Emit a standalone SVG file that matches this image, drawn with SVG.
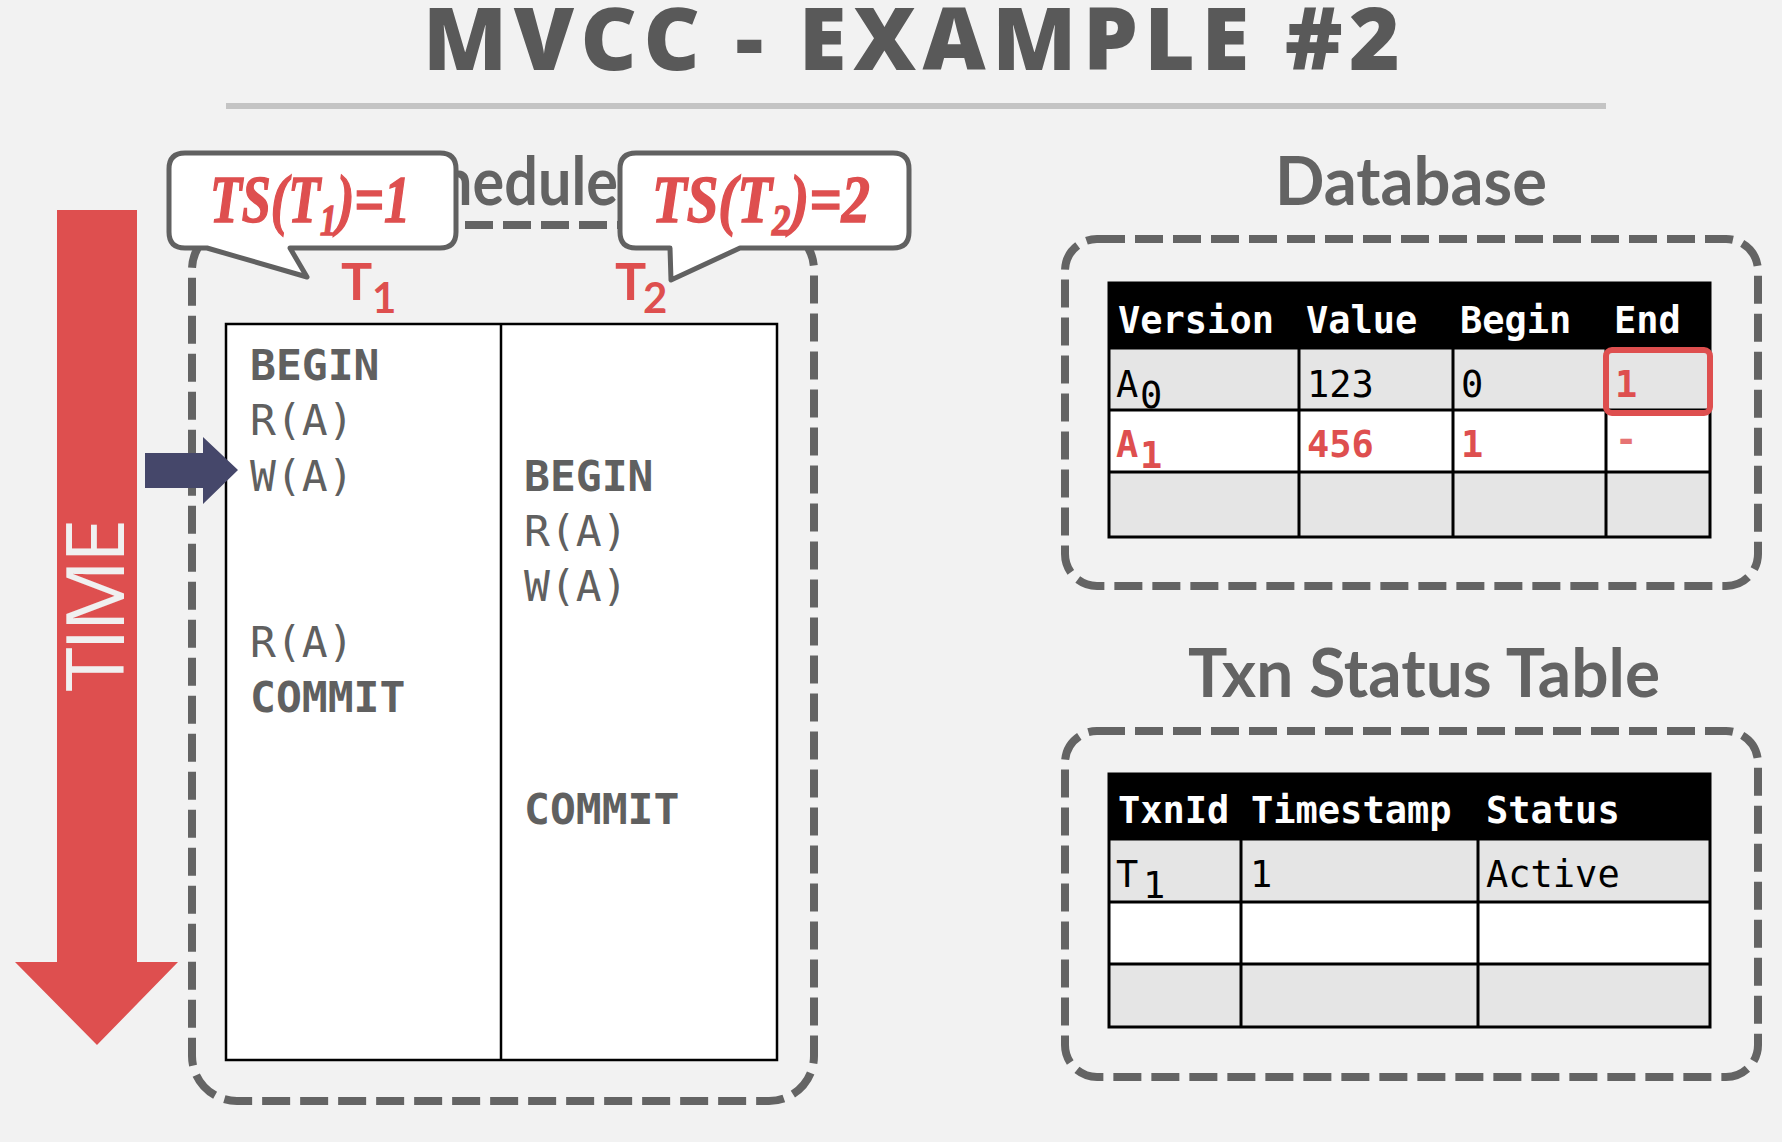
<svg xmlns="http://www.w3.org/2000/svg" width="1782" height="1142" viewBox="0 0 1782 1142">
<defs>
<style>
.bg{fill:#f2f2f2}
.dash{fill:none;stroke:#646464;stroke-width:8;stroke-dasharray:28 10}
.head{font-family:Lato,"Open Sans",sans-serif;font-weight:700;font-size:66px;fill:#636363}
.mono{font-family:"DejaVu Sans Mono","Liberation Mono",monospace}
.sched{font-size:43px;fill:#606060}
.b{font-weight:700}
.grid{stroke:#000;stroke-width:3;fill:none}
.th{font-size:37px;font-weight:700;fill:#fff}
.td{font-size:37px;fill:#000}
.red{fill:#de4f4f}
.dashred{fill:#e67373}
.callout{fill:#fff;stroke:#616161;stroke-width:5;stroke-linejoin:round}
.ts{font-family:"Liberation Serif",serif;font-style:italic;font-weight:700;font-size:68px;fill:#de4f4f;stroke:#de4f4f;stroke-width:1.5}
.tl{font-family:Lato,"Open Sans",sans-serif;font-weight:700;fill:#de4f4f}
</style>
</defs>
<rect class="bg" x="0" y="0" width="1782" height="1142"/>

<g id="title">
<text x="423" y="70" font-family="'Open Sans',Lato,sans-serif" font-weight="800" font-size="87" fill="#595959" textLength="977" lengthAdjust="spacing">MVCC - EXAMPLE #2</text>
<rect x="226" y="103" width="1380" height="6" fill="#c4c4c4"/>
</g>

<g id="time-arrow">
<polygon points="57,210 137,210 137,962 178,962 97,1045 15,962 57,962" fill="#de4f4f"/>
<text transform="translate(124,605) rotate(-90)" text-anchor="middle" font-family="'Open Sans',Lato,sans-serif" font-weight="400" font-size="80" fill="#f0f0f0" textLength="173" lengthAdjust="spacing">TIME</text>
</g>

<g id="schedule">
<text class="head" x="378" y="205" textLength="240" lengthAdjust="spacingAndGlyphs">Schedule</text>
<rect class="dash" x="192" y="225" width="622" height="876" rx="45"/>
<rect x="226" y="324" width="551" height="736" fill="#fff" stroke="#000" stroke-width="2.5"/>
<line x1="501" y1="324" x2="501" y2="1060" stroke="#000" stroke-width="2.5"/>
<g class="mono sched">
<text class="b" x="250" y="380">BEGIN</text>
<text x="250" y="435">R(A)</text>
<text x="250" y="491">W(A)</text>
<text x="250" y="657">R(A)</text>
<text class="b" x="250" y="712">COMMIT</text>
<text class="b" x="524" y="491">BEGIN</text>
<text x="524" y="546">R(A)</text>
<text x="524" y="601">W(A)</text>
<text class="b" x="524" y="824">COMMIT</text>
</g>
<text class="tl" x="341" y="300" font-size="52">T</text>
<text class="tl" x="372" y="313" font-size="42">1</text>
<text class="tl" x="615" y="300" font-size="52">T</text>
<text class="tl" x="643" y="313" font-size="42">2</text>
</g>

<g id="callout-t1">
<path class="callout" d="M185,153 H440 Q456,153 456,169 V232 Q456,248 440,248 H290 L307,277 L207,248 H185 Q169,248 169,232 V169 Q169,153 185,153 Z"/>
<text class="ts" x="210" y="222" textLength="200" lengthAdjust="spacingAndGlyphs">TS(T<tspan font-size="44" dy="13">1</tspan><tspan dy="-13">)=1</tspan></text>
</g>

<g id="callout-t2">
<path class="callout" d="M636,153 H893 Q909,153 909,169 V232 Q909,248 893,248 H740 L671,280 L670,248 H636 Q620,248 620,232 V169 Q620,153 636,153 Z"/>
<text class="ts" x="652" y="222" textLength="218" lengthAdjust="spacingAndGlyphs">TS(T<tspan font-size="44" dy="13">2</tspan><tspan dy="-13">)=2</tspan></text>
</g>

<g id="connectors">
<polygon points="145,453 203,453 203,437 238,470 203,504 203,488 145,488" fill="#45476a"/>
</g>

<g id="database">
<text class="head" x="1275" y="205" textLength="272" lengthAdjust="spacingAndGlyphs">Database</text>
<rect class="dash" x="1065" y="239" width="693" height="347" rx="32"/>
<rect x="1109" y="283" width="601" height="65" fill="#000"/>
<rect x="1109" y="348" width="601" height="62" fill="#e5e5e5"/>
<rect x="1109" y="410" width="601" height="62" fill="#fff"/>
<rect x="1109" y="472" width="601" height="65" fill="#e5e5e5"/>
<path class="grid" d="M1109,283 H1710 V537 H1109 Z M1109,348 H1710 M1109,410 H1710 M1109,472 H1710 M1299,348 V537 M1453,348 V537 M1606,348 V537"/>
<g class="mono">
<text class="th" x="1118" y="333">Version</text>
<text class="th" x="1306" y="333">Value</text>
<text class="th" x="1460" y="333">Begin</text>
<text class="th" x="1614" y="333">End</text>
<text class="td" x="1116" y="397">A</text>
<text class="td" x="1140" y="408" font-size="20">0</text>
<text class="td" x="1307" y="397">123</text>
<text class="td" x="1461" y="397">0</text>
<text class="td red b" x="1615" y="397">1</text>
<text class="td red b" x="1116" y="457">A</text>
<text class="td red b" x="1140" y="468" font-size="20">1</text>
<text class="td red b" x="1307" y="457">456</text>
<text class="td red b" x="1461" y="457">1</text>
<text class="td dashred b" x="1615" y="452">-</text>
</g>
<rect x="1606" y="350" width="104" height="63" rx="6" fill="none" stroke="#de4f4f" stroke-width="6"/>
</g>

<g id="txn-status">
<text class="head" x="1188" y="697" textLength="472" lengthAdjust="spacingAndGlyphs">Txn Status Table</text>
<rect class="dash" x="1065" y="731" width="693" height="346" rx="32"/>
<rect x="1109" y="774" width="601" height="65" fill="#000"/>
<rect x="1109" y="839" width="601" height="63" fill="#e5e5e5"/>
<rect x="1109" y="902" width="601" height="62" fill="#fff"/>
<rect x="1109" y="964" width="601" height="63" fill="#e5e5e5"/>
<path class="grid" d="M1109,774 H1710 V1027 H1109 Z M1109,839 H1710 M1109,902 H1710 M1109,964 H1710 M1241,839 V1027 M1478,839 V1027"/>
<g class="mono">
<text class="th" x="1118" y="823">TxnId</text>
<text class="th" x="1251" y="823">Timestamp</text>
<text class="th" x="1486" y="823">Status</text>
<text class="td" x="1116" y="887">T</text>
<text class="td" x="1143" y="898" font-size="20">1</text>
<text class="td" x="1250" y="887">1</text>
<text class="td" x="1486" y="887">Active</text>
</g>
</g>
</svg>
